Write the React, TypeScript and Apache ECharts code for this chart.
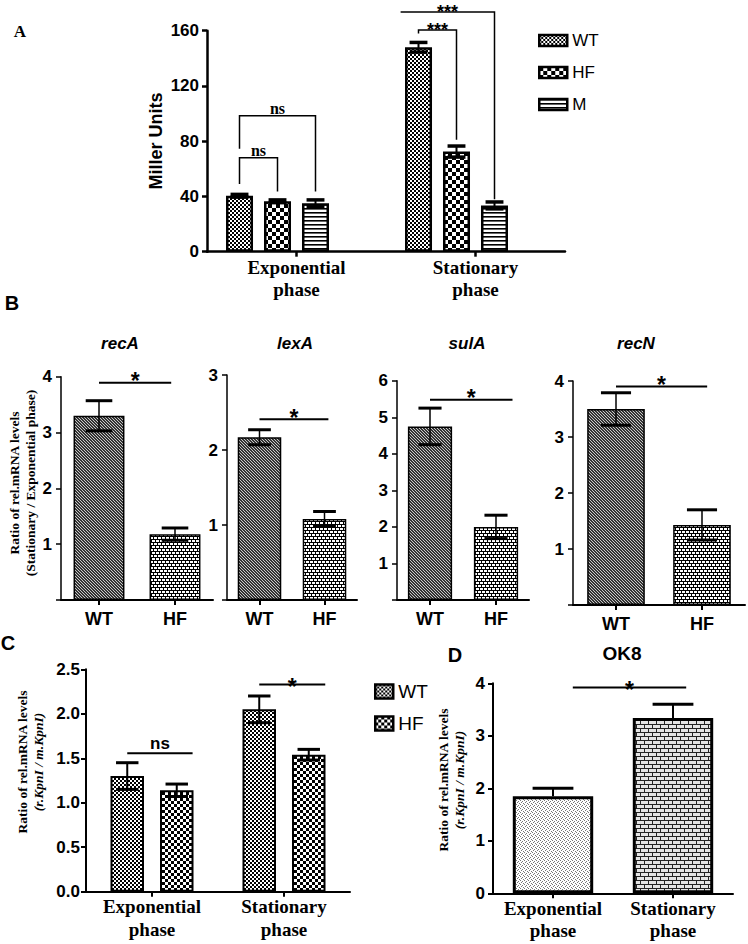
import React, { useEffect, useRef } from "react";
import * as echarts from "echarts";

// ---------- data ----------
// A: Miller units
const phaseLabels = ["Exponential\nphase", "Stationary\nphase"];
const millerTicks = [0, 40, 80, 120, 160];
const millerWT = [40.5, 148];
const millerWTErr = [1, 3.5];
const millerHF = [36.5, 72.5];
const millerHFErr = [1, 4];
const millerM = [35, 33.5];
const millerMErr = [2.5, 2.5];

// B: ratio stationary / exponential
const strainLabels = ["WT", "HF"];
const geneNames = ["recA", "lexA", "sulA", "recN"];
const recA = [3.3, 1.18];
const recAErr = [0.27, 0.11];
const lexA = [2.17, 1.08];
const lexAErr = [0.1, 0.1];
const sulA = [4.75, 2.0];
const sulAErr = [0.5, 0.32];
const recN = [3.5, 1.43];
const recNErr = [0.29, 0.27];
const geneTicks = [
  [0, 1, 2, 3, 4],
  [0, 1, 2, 3],
  [0, 1, 2, 3, 4, 5, 6],
  [0, 1, 2, 3, 4],
];

// C: r.KpnI / m.KpnI
const kpnTicks = [0, 0.5, 1, 1.5, 2, 2.5];
const kpnWT = [1.3, 2.05];
const kpnWTErr = [0.15, 0.15];
const kpnHF = [1.14, 1.54];
const kpnHFErr = [0.07, 0.06];

// D: OK8
const ok8Ticks = [0, 1, 2, 3, 4];
const ok8 = [1.85, 3.34];
const ok8Err = [0.15, 0.26];

// significance marks (y in data units)
const sigA = [
  { cat1: 0, s1: 0, cat2: 0, s2: 1, top: 68, left: 49, right: 43.5, dx1: 0, dx2: 0, text: "ns" },
  { cat1: 0, s1: 0, cat2: 0, s2: 2, top: 98.5, left: 74.5, right: 43.5, dx1: 0, dx2: 0, text: "ns" },
  { cat1: 1, s1: 0, cat2: 1, s2: 1, top: 160.5, left: 158, right: 81, dx1: 0, dx2: 0, text: "***" },
  { cat1: 1, s1: 0, cat2: 1, s2: 2, top: 173.5, left: 173.5, right: 38, dx1: -0.1, dx2: 0, text: "***" },
];
const sigB = [
  { top: 3.89, dx2: -0.05 },
  { top: 2.41, dx2: 0.06 },
  { top: 5.48, dx2: 0.25 },
  { top: 3.9, dx2: 0.06 },
];
const sigC = [
  { cat1: 0, s1: 0, cat2: 0, s2: 1, top: 1.555, left: 1.555, right: 1.555, dx1: 0, dx2: 0.12, text: "ns" },
  { cat1: 1, s1: 0, cat2: 1, s2: 1, top: 2.33, left: 2.33, right: 2.33, dx1: 0, dx2: 0.125, text: "*" },
];
const sigD = [
  { cat1: 0, s1: 0, cat2: 1, s2: 0, top: 3.92, left: 3.92, right: 3.92, dx1: 0.165, dx2: 0.11, text: "*" },
];

const SANS = "'Liberation Sans', Arial, sans-serif";
const SERIF = "'Liberation Serif', 'Times New Roman', serif";
const NARROW = "'Liberation Sans Narrow', 'Liberation Sans', Arial, sans-serif";

// ---------- fill patterns ----------
const makePattern = (
  w: number,
  h: number,
  draw: (ctx: CanvasRenderingContext2D) => void,
  bg = "#fff"
) => {
  const c = document.createElement("canvas");
  c.width = w;
  c.height = h;
  const ctx = c.getContext("2d")!;
  ctx.fillStyle = bg;
  ctx.fillRect(0, 0, w, h);
  ctx.fillStyle = "#000";
  draw(ctx);
  return { image: c, repeat: "repeat", imageWidth: w, imageHeight: h } as any;
};

const checker = (cell: number) =>
  makePattern(cell * 2, cell * 2, (ctx) => {
    ctx.fillRect(0, 0, cell, cell);
    ctx.fillRect(cell, cell, cell, cell);
  });

const buildPatterns = () => ({
  fineCheck: checker(2),
  bigCheck: checker(4),
  midCheck: checker(3),
  stripes: makePattern(4, 4, (ctx) => ctx.fillRect(0, 0, 4, 1.6)),
  greyWeave: makePattern(3, 3, (ctx) => {
    ctx.fillStyle = "#333";
    ctx.fillRect(0, 0, 3, 3);
    ctx.fillStyle = "#c8c8c8";
    ctx.fillRect(0, 0, 1, 1);
    ctx.fillRect(1, 1, 1, 1);
    ctx.fillRect(2, 2, 1, 1);
  }),
  mesh: makePattern(4, 6, (ctx) => {
    ctx.fillRect(0, 0, 4, 6);
    ctx.fillStyle = "#fff";
    ctx.fillRect(0, 0, 3, 2);
    ctx.fillRect(2, 3, 3, 2);
    ctx.fillRect(0, 3, 1, 2);
  }),
  stipple: makePattern(4, 4, (ctx) => {
    ctx.fillStyle = "#777";
    [[0, 0], [2, 1], [1, 2], [3, 3]].forEach(([x, y]) => ctx.fillRect(x, y, 1, 1));
  }),
  brick: makePattern(
    8,
    8,
    (ctx) => {
      ctx.fillStyle = "#222";
      ctx.fillRect(0, 0, 8, 1);
      ctx.fillRect(0, 4, 8, 1);
      ctx.fillRect(0, 0, 1, 4);
      ctx.fillRect(4, 4, 1, 4);
    },
    "#e4e4e4"
  ),
});

// ---------- helpers ----------
const barOffset = (n: number, w: number, g: number) => (s: number) =>
  -(n * w + (n - 1) * g) / 2 + w / 2 + s * (w + g);

const xCat = (gridIndex: number, data: string[], font: string, size: number, lineHeight: number, margin: number, lw: number) => ({
  type: "category",
  gridIndex,
  data,
  axisLine: { show: true, lineStyle: { color: "#000", width: lw } },
  axisTick: { show: true, alignWithLabel: true, length: 5, lineStyle: { color: "#000", width: lw } },
  axisLabel: { color: "#000", fontFamily: font, fontWeight: "bold", fontSize: size, lineHeight, margin, interval: 0 },
  splitLine: { show: false },
});

const yVal = (gridIndex: number, ticks: number[], fmt: (v: number) => string, font: string, size: number, margin: number, lw: number) => ({
  type: "value",
  gridIndex,
  min: ticks[0],
  max: ticks[ticks.length - 1],
  interval: ticks[1] - ticks[0],
  axisLine: { show: true, lineStyle: { color: "#000", width: lw } },
  axisTick: { show: true, length: 5, lineStyle: { color: "#000", width: lw } },
  axisLabel: { color: "#000", fontFamily: font, fontWeight: "bold", fontSize: size, margin, formatter: fmt },
  splitLine: { show: false },
});

const errorSeries = (
  idx: number,
  means: number[],
  errs: number[],
  offset: number,
  capFrac: number,
  capLw: number,
  stemLw: number,
  upOnly = false
) => ({
  type: "custom",
  xAxisIndex: idx,
  yAxisIndex: idx,
  silent: true,
  z: 5,
  data: means.map((m, i) => [i, m, errs[i]]),
  encode: { x: 0, y: 1 },
  renderItem: (_params: any, api: any) => {
    const cat = api.value(0);
    const m = api.value(1);
    const e = api.value(2);
    const hi = api.coord([cat, m + e]);
    const lo = api.coord([cat, upOnly ? m : m - e]);
    const x = hi[0] + offset;
    const half = (api.size([1, 0])[0] * capFrac) / 2;
    const ln = (x1: number, y1: number, x2: number, y2: number, w: number) => ({
      type: "line",
      shape: { x1, y1, x2, y2 },
      style: { stroke: "#000", lineWidth: w },
    });
    const children = [ln(x, hi[1], x, lo[1], stemLw), ln(x - half, hi[1], x + half, hi[1], capLw)];
    if (!upOnly) children.push(ln(x - half, lo[1], x + half, lo[1], capLw));
    return { type: "group", children };
  },
});

const sigSeries = (idx: number, annos: any[], offsetOf: (s: number) => number, lw: number, font: string, dy: number) => ({
  type: "custom",
  xAxisIndex: idx,
  yAxisIndex: idx,
  silent: true,
  z: 6,
  data: annos.map((a) => [a.cat1, a.top, a.cat2, a.left, a.right]),
  encode: { x: 0, y: 1 },
  renderItem: (params: any, api: any) => {
    const a = annos[params.dataIndex];
    const band = api.size([1, 0])[0];
    const top = api.value(1);
    const p1 = api.coord([api.value(0), top]);
    const p2 = api.coord([api.value(2), top]);
    const x1 = p1[0] + offsetOf(a.s1) + a.dx1 * band;
    const x2 = p2[0] + offsetOf(a.s2) + a.dx2 * band;
    const yL = api.coord([api.value(0), api.value(3)])[1];
    const yR = api.coord([api.value(2), api.value(4)])[1];
    return {
      type: "group",
      children: [
        {
          type: "polyline",
          shape: { points: [[x1, yL], [x1, p1[1]], [x2, p1[1]], [x2, yR]] },
          style: { stroke: "#000", lineWidth: lw, fill: "none" },
        },
        {
          type: "text",
          x: (x1 + x2) / 2,
          y: p1[1] + dy,
          style: { text: a.text, font, fill: "#000", align: "center", verticalAlign: "middle" },
        },
      ],
    };
  },
});

const txt = (x: number, y: number, text: string, font: string) => ({
  type: "text",
  x,
  y,
  silent: true,
  style: { text, font, fill: "#000", align: "center", verticalAlign: "middle" },
});

const yName = (x: number, y: number, second: string, italic: boolean) => ({
  type: "text",
  x,
  y,
  rotation: Math.PI / 2,
  silent: true,
  style: {
    text: `{a|Ratio of rel.mRNA levels}\n{b|${second}}`,
    align: "center",
    verticalAlign: "middle",
    rich: {
      a: { font: `bold 13.5px ${SERIF}`, fill: "#000", lineHeight: 16, align: "center" },
      b: { font: `${italic ? "italic " : ""}bold 13.5px ${SERIF}`, fill: "#000", lineHeight: 16, align: "center" },
    },
  },
});

const App: React.FC = () => {
  const chartRef = useRef<HTMLDivElement>(null);

  useEffect(() => {
    document.body.style.margin = "0";
    if (!chartRef.current) return;
    const chart = echarts.init(chartRef.current, undefined, { renderer: "svg" });
    const pat = buildPatterns();

    // grid layout (px)
    const grids = [
      { left: 207, top: 30.7, width: 358, height: 221 }, // A
      { left: 61, top: 376.7, width: 152, height: 223.3 }, // recA
      { left: 227, top: 375, width: 130, height: 225 }, // lexA
      { left: 397, top: 380.7, width: 132, height: 219.3 }, // sulA
      { left: 573, top: 381, width: 172, height: 224 }, // recN
      { left: 86, top: 669.3, width: 264, height: 222.4 }, // C
      { left: 493, top: 683.3, width: 240, height: 210 }, // D
    ];

    const offA = barOffset(4, 27, 11);
    const offC = barOffset(2, 33.5, 16);
    const off0 = () => 0;

    const geneValues = [recA, lexA, sulA, recN];
    const geneErrs = [recAErr, lexAErr, sulAErr, recNErr];

    const borderA = { borderColor: "#000", borderWidth: 2.5 };
    const series: any[] = [
      { type: "bar", name: "WT", xAxisIndex: 0, yAxisIndex: 0, data: millerWT, barWidth: 27, barGap: "40.7%", itemStyle: { color: pat.fineCheck, ...borderA } },
      { type: "bar", name: "HF", xAxisIndex: 0, yAxisIndex: 0, data: millerHF, barWidth: 27, barGap: "40.7%", itemStyle: { color: pat.bigCheck, ...borderA } },
      { type: "bar", name: "M", xAxisIndex: 0, yAxisIndex: 0, data: millerM, barWidth: 27, barGap: "40.7%", itemStyle: { color: pat.stripes, ...borderA } },
      { type: "bar", name: " ", xAxisIndex: 0, yAxisIndex: 0, data: ["-", "-"], barWidth: 27, barGap: "40.7%" },
      errorSeries(0, millerWT, millerWTErr, offA(0), 0.1, 3.5, 2),
      errorSeries(0, millerHF, millerHFErr, offA(1), 0.1, 3.5, 2),
      errorSeries(0, millerM, millerMErr, offA(2), 0.1, 3.5, 2),
      sigSeries(0, sigA.slice(0, 2), offA, 1.5, `bold 16px ${SERIF}`, -7),
      sigSeries(0, sigA.slice(2), offA, 1.5, `bold 18px ${SANS}`, 0),
    ];

    geneNames.forEach((g, i) => {
      const idx = i + 1;
      series.push({
        type: "bar",
        name: g,
        xAxisIndex: idx,
        yAxisIndex: idx,
        barWidth: "67%",
        data: geneValues[i].map((v, j) => ({
          value: v,
          itemStyle: { color: j === 0 ? pat.greyWeave : pat.mesh },
        })),
        itemStyle: { borderColor: "#000", borderWidth: 1.5 },
      });
      series.push(errorSeries(idx, geneValues[i], geneErrs[i], 0, 0.35, 3, 1.5));
      series.push(
        sigSeries(
          idx,
          [{ cat1: 0, s1: 0, cat2: 1, s2: 0, top: sigB[i].top, left: sigB[i].top, right: sigB[i].top, dx1: 0, dx2: sigB[i].dx2, text: "*" }],
          off0,
          2,
          `bold 23px ${SANS}`,
          -1.5
        )
      );
    });

    series.push(
      { type: "bar", name: "WT", xAxisIndex: 5, yAxisIndex: 5, data: kpnWT, barWidth: 33.5, barGap: "47.8%", itemStyle: { color: pat.fineCheck, borderColor: "#000", borderWidth: 2 } },
      { type: "bar", name: "HF", xAxisIndex: 5, yAxisIndex: 5, data: kpnHF, barWidth: 33.5, barGap: "47.8%", itemStyle: { color: pat.midCheck, borderColor: "#000", borderWidth: 2 } },
      errorSeries(5, kpnWT, kpnWTErr, offC(0), 0.17, 3, 2),
      errorSeries(5, kpnHF, kpnHFErr, offC(1), 0.17, 3, 2),
      sigSeries(5, sigC.slice(0, 1), offC, 2, `bold 17px ${SANS}`, -9.5),
      sigSeries(5, sigC.slice(1), offC, 2, `bold 23px ${SANS}`, 2.5),
      {
        type: "bar",
        name: "OK8",
        xAxisIndex: 6,
        yAxisIndex: 6,
        barWidth: "67%",
        data: ok8.map((v, j) => ({ value: v, itemStyle: { color: j === 0 ? pat.stipple : pat.brick } })),
        itemStyle: { borderColor: "#000", borderWidth: 3 },
      },
      errorSeries(6, ok8, ok8Err, 0, 0.34, 3, 2, true),
      sigSeries(6, sigD, off0, 2, `bold 23px ${SANS}`, 2.5)
    );

    const intFmt = (v: number) => String(v);
    const noZero = (v: number) => (v === 0 ? "" : String(v));

    const option: any = {
      animation: false,
      backgroundColor: "#fff",
      grid: grids,
      xAxis: [
        xCat(0, phaseLabels, SERIF, 19, 22, 5, 2.5),
        ...geneNames.map((_, i) => xCat(i + 1, strainLabels, SANS, 18, 20, 9, 2)),
        xCat(5, phaseLabels, SERIF, 19, 23, 3, 2),
        xCat(6, phaseLabels, SERIF, 19, 22, 4, 2),
      ],
      yAxis: [
        yVal(0, millerTicks, intFmt, SANS, 17, 8, 2.5),
        ...geneTicks.map((t, i) => yVal(i + 1, t, noZero, SANS, 17, 9, 1.5)),
        yVal(5, kpnTicks, (v: number) => v.toFixed(1), NARROW, 17, 6, 2),
        yVal(6, ok8Ticks, intFmt, SANS, 17, 8, 2),
      ],
      legend: [
        {
          orient: "vertical",
          left: 533,
          top: 27,
          itemWidth: 28,
          itemHeight: 11,
          itemGap: 15,
          selectedMode: false,
          textStyle: { color: "#000", fontFamily: SANS, fontSize: 17 },
          data: [
            { name: "WT", icon: "rect", itemStyle: { color: pat.fineCheck, borderColor: "#000", borderWidth: 2.5 } },
            { name: "HF", icon: "rect", itemStyle: { color: pat.bigCheck, borderColor: "#000", borderWidth: 2.5 } },
            { name: "M", icon: "rect", itemStyle: { color: pat.stripes, borderColor: "#000", borderWidth: 2.5 } },
          ],
        },
        {
          orient: "vertical",
          left: 369,
          top: 677,
          itemWidth: 18,
          itemHeight: 14,
          itemGap: 13,
          selectedMode: false,
          textStyle: { color: "#000", fontFamily: NARROW, fontSize: 19 },
          data: [
            { name: "WT", icon: "rect", itemStyle: { color: pat.fineCheck, borderColor: "#000", borderWidth: 2.5 } },
            { name: "HF", icon: "rect", itemStyle: { color: pat.midCheck, borderColor: "#000", borderWidth: 2.5 } },
          ],
        },
      ],
      series,
      graphic: [
        txt(20, 31, "A", `bold 17px ${SERIF}`),
        txt(12, 303, "B", `bold 20px ${SANS}`),
        txt(8, 643, "C", `bold 20px ${SANS}`),
        txt(455, 655, "D", `bold 20px ${SANS}`),
        txt(120, 343, "recA", `italic bold 17px ${SANS}`),
        txt(295, 343, "lexA", `italic bold 17px ${SANS}`),
        txt(467, 343, "sulA", `italic bold 17px ${SANS}`),
        txt(636, 343, "recN", `italic bold 17px ${SANS}`),
        txt(622, 653, "OK8", `bold 19px ${SANS}`),
        {
          type: "text",
          x: 156,
          y: 141,
          rotation: Math.PI / 2,
          silent: true,
          style: { text: "Miller Units", font: `bold 18px ${SANS}`, fill: "#000", align: "center", verticalAlign: "middle" },
        },
        yName(22, 483, "(Stationary / Exponential phase)", false),
        yName(30, 762, "(r.KpnI / m.KpnI)", true),
        yName(451.5, 780, "(r.KpnI / m.KpnI)", true),
      ],
    };

    chart.setOption(option);
    return () => chart.dispose();
  }, []);

  return <div ref={chartRef} style={{ width: 748, height: 944 }} />;
};

export default App;
